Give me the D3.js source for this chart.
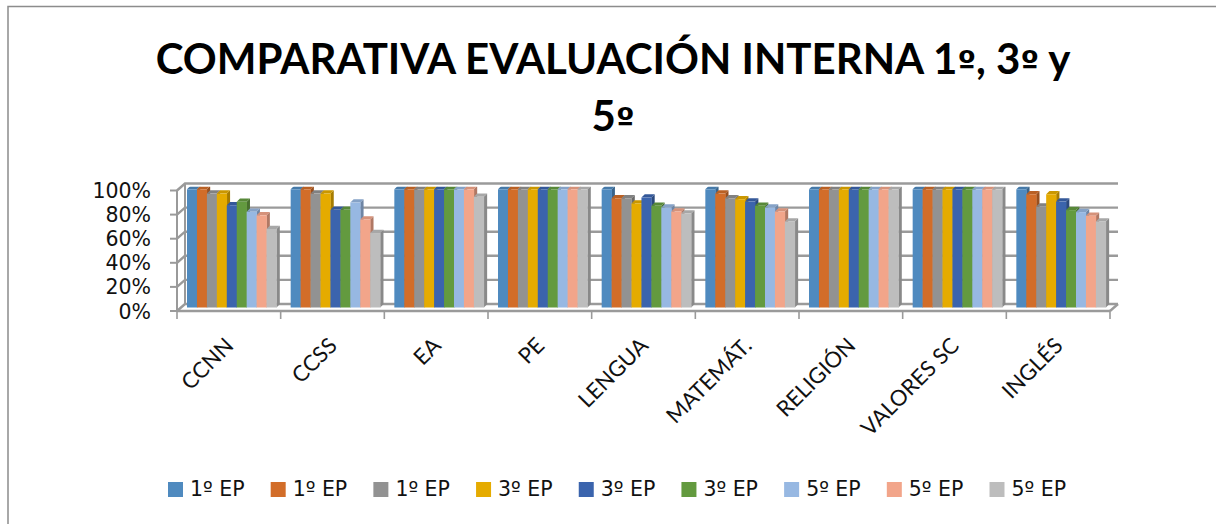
<!DOCTYPE html>
<html><head><meta charset="utf-8">
<script src="https://cdn.jsdelivr.net/npm/d3@7"></script>
<style>html,body{margin:0;background:#fff}svg{display:block}</style></head>
<body><svg id="c" width="1216" height="524"></svg>
<script>
const categories=["CCNN","CCSS","EA","PE","LENGUA","MATEMÁT.","RELIGIÓN","VALORES SC","INGLÉS"];
const seriesNames=["1º EP","1º EP","1º EP","3º EP","3º EP","3º EP","5º EP","5º EP","5º EP"];
const colors=["#4f8abf","#d26d29","#929292","#e5ab00","#3b64ad","#639a3f","#97b8e2","#f2a58a","#bdbdbd"];
const s1=[100,100,100,100,100,100,100,100,100];
const s2=[100,100,100,100,92.4,96.4,100,100,95.8];
const s3=[96.4,96.4,100,100,92.4,92.4,100,100,85.4];
const s4=[96.4,96.4,100,100,88,91.6,100,100,95.8];
const s5=[86.5,82.6,100,100,93,89.6,100,100,89.6];
const s6=[89.4,82.6,100,100,86,86,100,100,82.4];
const s7=[81,88.8,100,100,84.6,84.6,100,100,80.7];
const s8=[78,74.5,100,100,81.2,81.2,100,100,77.6];
const s9=[66.4,63,93.6,100,79.5,72.8,100,100,72.8];
const series=[s1,s2,s3,s4,s5,s6,s7,s8,s9];
const yTicks=[0,20,40,60,80,100];
const title=["COMPARATIVA EVALUACIÓN INTERNA 1º, 3º y","5º"];

const svg=d3.select("#c");
svg.append("path").attr("d","M8,524V6.5H1216").attr("fill","none").attr("stroke","#8c8c8c").attr("stroke-width",1.5);

const font="Lato, sans-serif", font2="'DejaVu Sans', sans-serif";
title.forEach((line,i)=>{
  const t=svg.append("text").attr("x",613).attr("y",74+i*57).attr("text-anchor","middle")
   .attr("font-family",font).attr("font-weight",700).attr("font-size",42).attr("fill","#000");
  // the ordinal mark takes the underlined form of the reference
  line.split(/(º)/).forEach(p=>{
    const s=t.append("tspan").text(p);
    if(p==="º") s.attr("font-family",font2).attr("font-size",33);
  });
});

const x=d3.scaleBand().domain(categories).range([177,1110]);
const y=d3.scaleLinear().domain([0,100]).range([311,190.5]);
const floorDx=8,floorDy=7;
const gridC="#9a9a9a";
yTicks.forEach(t=>{
  svg.append("path").attr("d",`M${x.range()[0]},${y(t)}l${floorDx},${-floorDy}H${x.range()[1]+floorDx}`)
   .attr("fill","none").attr("stroke",gridC).attr("stroke-width",2.4);
});
svg.append("line").attr("x1",x.range()[0]+floorDx).attr("x2",x.range()[0]+floorDx).attr("y1",y(0)-floorDy).attr("y2",y(100)-floorDy).attr("stroke",gridC).attr("stroke-width",2);
svg.append("line").attr("x1",x.range()[1]).attr("x2",x.range()[1]+floorDx).attr("y1",y(0)).attr("y2",y(0)-floorDy).attr("stroke",gridC).attr("stroke-width",2.4);
svg.append("line").attr("x1",x.range()[0]).attr("x2",x.range()[1]).attr("y1",y(0)).attr("y2",y(0)).attr("stroke",gridC).attr("stroke-width",2.4);
svg.append("line").attr("x1",x.range()[0]).attr("x2",x.range()[0]).attr("y1",y(0)).attr("y2",y(100)).attr("stroke",gridC).attr("stroke-width",2);
yTicks.forEach(t=>{
  svg.append("line").attr("x1",x.range()[0]-7).attr("x2",x.range()[0]).attr("y1",y(t)).attr("y2",y(t)).attr("stroke",gridC).attr("stroke-width",2);
  svg.append("text").attr("x",151).attr("y",y(t)+7.5).attr("text-anchor","end").attr("font-family",font2).attr("font-size",20.5).attr("fill","#111").text(t+"%");
});
const tickXs=categories.map(c=>x(c)).concat(x.range()[1]);
tickXs.forEach(v=>svg.append("line").attr("x1",v).attr("x2",v).attr("y1",y(0)).attr("y2",y(0)+8).attr("stroke",gridC).attr("stroke-width",1.6));

// bars: own scale at mid-depth of the floor; caps of full bars are cut by the plot top
const yb=d3.scaleLinear().domain([0,100]).range([307.5,189.3]);
svg.append("clipPath").attr("id","plot").append("rect").attr("x",170).attr("y",186.7).attr("width",960).attr("height",130);
const pad=x.bandwidth()*0.0965;
const inner=d3.scaleBand().domain(d3.range(9)).range([pad,pad+89.5]);
const depth=3.3;
const bars=svg.append("g").attr("clip-path","url(#plot)");
categories.forEach((c,ci)=>{
  const g=bars.append("g");
  series.forEach((vals,si)=>{
    const v=vals[ci],bx=x(c)+inner(si),w=inner.bandwidth(),col=d3.color(colors[si]);
    const top=yb(v),bot=yb(0);
    g.append("path").attr("d",`M${bx+w},${top}l${depth},${-depth}V${bot-depth}l${-depth},${depth}Z`).attr("fill",col.darker(0.9));
    g.append("path").attr("d",`M${bx},${top}l${depth},${-depth}h${w}l${-depth},${depth}Z`).attr("fill",col.darker(0.35));
    g.append("rect").attr("x",bx).attr("y",top).attr("width",w+0.3).attr("height",bot-top).attr("fill",colors[si]);
  });
});

categories.forEach(c=>{
  svg.append("text").attr("transform",`translate(${x(c)+x.bandwidth()/2+6},${y(0)+36}) rotate(-45)`)
   .attr("text-anchor","end").attr("font-family",font).attr("font-size",22).attr("fill","#111").text(c);
});

const lx=d3.scalePoint().domain(d3.range(9)).range([168,989.5]);
seriesNames.forEach((n,i)=>{
  svg.append("rect").attr("x",lx(i)).attr("y",482).attr("width",15).attr("height",15).attr("fill",colors[i]);
  svg.append("text").attr("x",lx(i)+22).attr("y",496).attr("font-family",font2).attr("font-size",20.5).attr("fill","#111").text(n);
});
</script></body></html>
